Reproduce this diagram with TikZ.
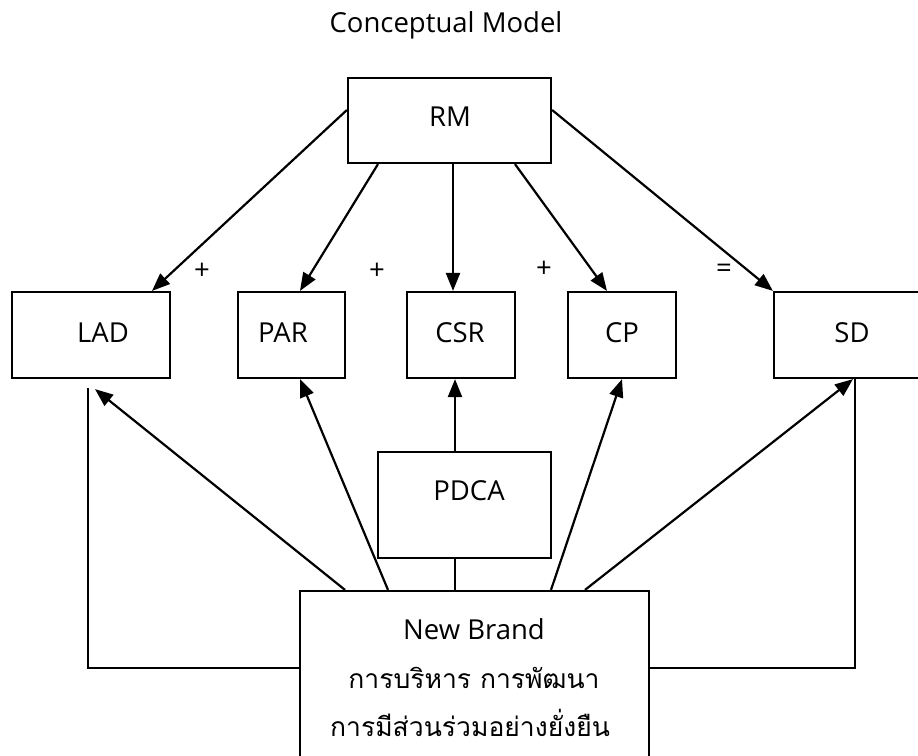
\documentclass[tikz,border=0pt]{standalone}
\usepackage{fontspec}
\setmainfont{Open Sans}
\newfontfamily\thaifont[Script=Thai]{Loma}
\usetikzlibrary{arrows.meta}
\begin{document}
\begin{tikzpicture}[x=1pt,y=-1pt,
  box/.style={draw,line width=2.2pt,rectangle,inner sep=0pt},
  txt/.style={anchor=base,inner sep=0pt,font=\fontsize{27.5}{32}\selectfont},
  thtxt/.style={anchor=base,inner sep=0pt,font=\thaifont\fontsize{26.5}{30}\selectfont},
  conn/.style={line width=2.2pt},
  arr/.style={conn,-{Triangle[length=18pt,width=14pt]}}]
\clip (0,0) rectangle (918,755);
\fill[white] (0,0) rectangle (918,755);
% title
\node[txt] (title) at (446,32) {Conceptual Model};
% boxes
\node[box,minimum width=203pt,minimum height=85pt] (rm) at (449.5,120.5) {};
\node[box,minimum width=158pt,minimum height=86pt] (lad) at (91,335) {};
\node[box,minimum width=107pt,minimum height=86pt] (par) at (291.5,335) {};
\node[box,minimum width=108pt,minimum height=86pt] (csr) at (461,335) {};
\node[box,minimum width=108pt,minimum height=86pt] (cp) at (622,335) {};
\node[box,minimum width=151pt,minimum height=86pt] (sd) at (849.5,335) {};
\node[box,minimum width=173pt,minimum height=106pt] (pdca) at (464.5,505) {};
\node[box,minimum width=349pt,minimum height=209pt] (nb) at (474.5,695.5) {};
% texts
\node[txt] (trm) at (450,126) {RM};
\node[txt] (tlad) at (103,342) {LAD};
\node[txt] (tpar) at (283,342) {PAR};
\node[txt] (tcsr) at (460,342) {CSR};
\node[txt] (tcp) at (622,342) {CP};
\node[txt] (tsd) at (852,342) {SD};
\node[txt] (tpdca) at (469,500) {PDCA};
\node[txt] (tnb) at (474,639) {New Brand};
\node[thtxt] (tth1) at (474,688) {การบริหาร การพัฒนา};
\node[thtxt] (tth2) at (470,736) {การมีส่วนร่วมอย่างยั่งยืน};
% operators
\node[txt] (op1) at (202,279) {+};
\node[txt] (op2) at (377,279) {+};
\node[txt] (op3) at (544,277) {+};
\node[txt] (op4) at (724,277) {=};
% top arrows
\draw[arr] ([yshift=10.5pt]rm.west) -- ([xshift=61pt]lad.north);
\draw[arr] ([xshift=-71.5pt]rm.south) -- ([xshift=8.5pt]par.north);
\draw[arr] ([xshift=3.5pt]rm.south) -- ([xshift=-8pt]csr.north);
\draw[arr] ([xshift=65.5pt]rm.south) -- ([xshift=-15pt]cp.north);
\draw[arr] ([yshift=10.5pt]rm.east) -- (sd.north west);
% bottom arrows
\coordinate (ladfoot) at (88,388);
\draw[arr] ([xshift=-129.5pt]nb.north) -- ([xshift=4pt,yshift=-10pt]lad.south);
\draw[arr] ([xshift=-86.5pt]nb.north) -- ([xshift=8.5pt]par.south);
\draw[arr] ([xshift=-9.5pt]pdca.north) -- ([xshift=-6pt]csr.south);
\draw[conn] ([xshift=-9.5pt]pdca.south) -- ([xshift=-19.5pt]nb.north);
\draw[arr] ([xshift=76.5pt]nb.north) -- (cp.south);
\draw[arr] ([xshift=110.5pt]nb.north) -- ([xshift=3.5pt]sd.south);
\draw[conn] ([yshift=27.5pt]nb.west) -| (ladfoot);
\draw[conn] ([yshift=27.5pt]nb.east) -| ([xshift=5.5pt]sd.south);
\end{tikzpicture}
\end{document}
